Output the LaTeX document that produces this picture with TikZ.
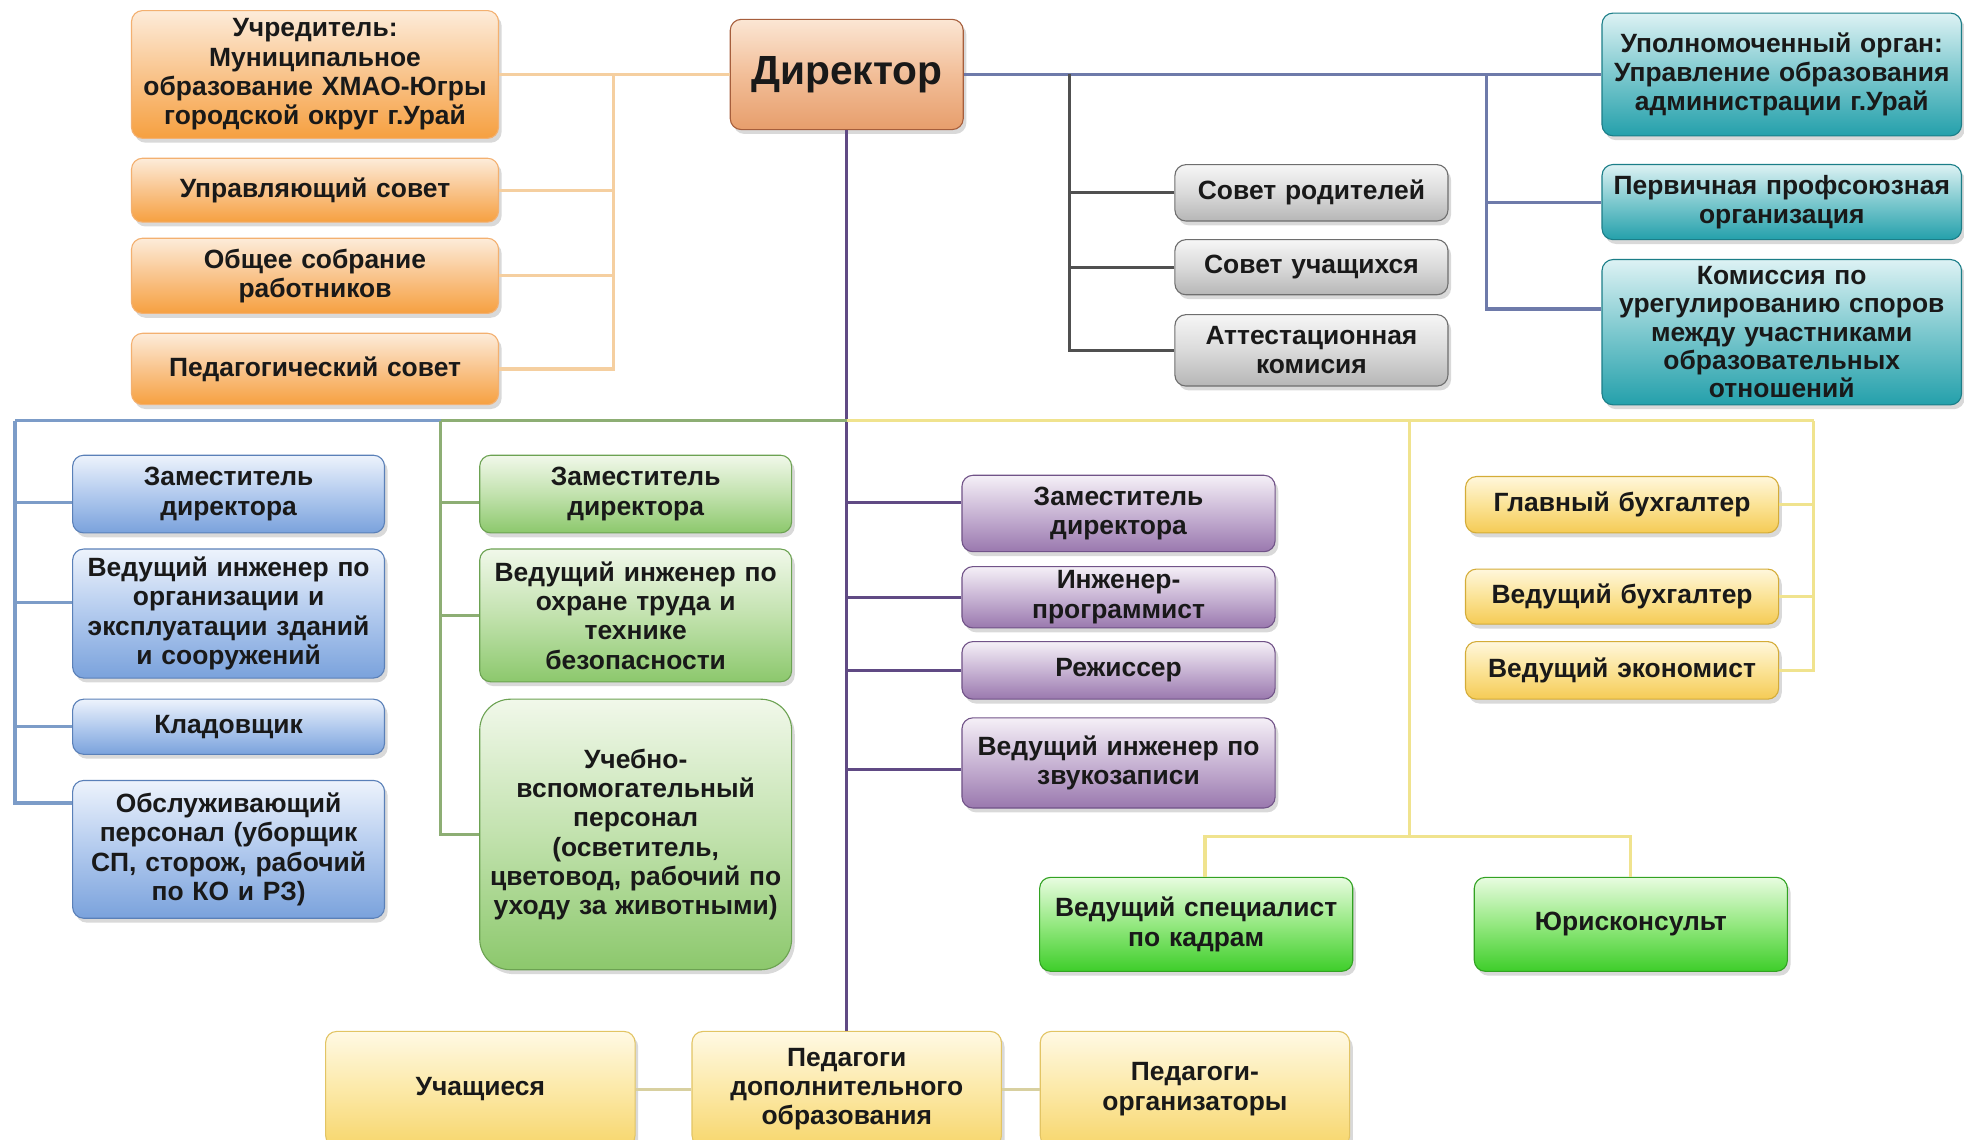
\documentclass[tikz,border=0pt]{standalone}
\usepackage{fontspec}
\setmainfont{Liberation Sans}
\usepackage{tikz}
\usetikzlibrary{positioning,shapes,shadows}

\definecolor{orgtop}{HTML}{FDECDA}
\definecolor{orgmid}{HTML}{F9C48C}
\definecolor{orgbot}{HTML}{F6A040}
\definecolor{orgdraw}{HTML}{F3B070}
\definecolor{dirtop}{HTML}{FBE6D4}
\definecolor{dirmid}{HTML}{F2BE98}
\definecolor{dirbot}{HTML}{E79E6C}
\definecolor{dirdraw}{HTML}{A65E3C}
\definecolor{grytop}{HTML}{F6F6F6}
\definecolor{grymid}{HTML}{DADADA}
\definecolor{grybot}{HTML}{B6B6B6}
\definecolor{grydraw}{HTML}{6E6E6E}
\definecolor{teltop}{HTML}{DDF2F4}
\definecolor{telmid}{HTML}{7CC8CE}
\definecolor{telbot}{HTML}{24A0AB}
\definecolor{teldraw}{HTML}{1B7E88}
\definecolor{blutop}{HTML}{EDF3FC}
\definecolor{blumid}{HTML}{B2CAEE}
\definecolor{blubot}{HTML}{7AA2DC}
\definecolor{bludraw}{HTML}{5A80B8}
\definecolor{grntop}{HTML}{F1F8EA}
\definecolor{grnmid}{HTML}{C2E2AE}
\definecolor{grnbot}{HTML}{8CC86C}
\definecolor{grndraw}{HTML}{6CA252}
\definecolor{viotop}{HTML}{F5F0F7}
\definecolor{viomid}{HTML}{C8B4D4}
\definecolor{viobot}{HTML}{9A78AE}
\definecolor{viodraw}{HTML}{715388}
\definecolor{goltop}{HTML}{FFF7DC}
\definecolor{golmid}{HTML}{FBE396}
\definecolor{golbot}{HTML}{F5CB55}
\definecolor{goldraw}{HTML}{D4AC38}
\definecolor{limtop}{HTML}{E8FCE0}
\definecolor{limmid}{HTML}{94E880}
\definecolor{limbot}{HTML}{3ECE2A}
\definecolor{limdraw}{HTML}{32A222}
\definecolor{sndtop}{HTML}{FFF9E4}
\definecolor{sndmid}{HTML}{FCE9A8}
\definecolor{sndbot}{HTML}{F7D66C}
\definecolor{snddraw}{HTML}{E2C464}

\tikzstyle{unit}=[rectangle, rounded corners=5pt, line width=0.5pt,
        drop shadow={shadow xshift=0.05cm, shadow yshift=-0.07cm, opacity=0.3},
        align=center, anchor=north, text=black!90, inner xsep=0.08cm, inner ysep=0.05cm,
        font=\bfseries\fontsize{12}{13.3}\selectfont]
\tikzstyle{orangebox}=[unit, draw=orgdraw, top color=orgtop, bottom color=orgbot, middle color=orgmid, text width=5.7cm]
\tikzstyle{headbox}=[unit, draw=dirdraw, top color=dirtop, bottom color=dirbot, middle color=dirmid, text width=3.56cm,
        font=\bfseries\fontsize{18.5}{20}\selectfont]
\tikzstyle{greybox}=[unit, draw=grydraw, top color=grytop, bottom color=grybot, middle color=grymid, text width=4.2cm]
\tikzstyle{tealbox}=[unit, draw=teldraw, top color=teltop, bottom color=telbot, middle color=telmid, text width=5.58cm]
\tikzstyle{bluebox}=[unit, draw=bludraw, top color=blutop, bottom color=blubot, middle color=blumid, text width=4.82cm]
\tikzstyle{greenbox}=[unit, draw=grndraw, top color=grntop, bottom color=grnbot, middle color=grnmid, text width=4.82cm]
\tikzstyle{violetbox}=[unit, draw=viodraw, top color=viotop, bottom color=viobot, middle color=viomid, text width=4.84cm]
\tikzstyle{goldbox}=[unit, draw=goldraw, top color=goltop, bottom color=golbot, middle color=golmid, text width=4.84cm]
\tikzstyle{limebox}=[unit, draw=limdraw, top color=limtop, bottom color=limbot, middle color=limmid, text width=4.84cm]
\tikzstyle{sandbox}=[unit, draw=snddraw, top color=sndtop, bottom color=sndbot, middle color=sndmid, text width=4.78cm]

\tikzstyle{orangeline}=[draw={rgb,255:red,245;green,207;blue,160}, line width=1.4pt]
\tikzstyle{slateline}=[draw={rgb,255:red,110;green,122;blue,170}, line width=1.4pt]
\tikzstyle{greyline}=[draw={rgb,255:red,80;green,80;blue,80}, line width=1.4pt]
\tikzstyle{violetline}=[draw={rgb,255:red,96;green,74;blue,132}, line width=1.4pt]
\tikzstyle{blueline}=[draw={rgb,255:red,124;green,156;blue,200}, line width=1.4pt]
\tikzstyle{greenline}=[draw={rgb,255:red,141;green,174;blue,116}, line width=1.4pt]
\tikzstyle{goldline}=[draw={rgb,255:red,240;green,227;blue,142}, line width=1.4pt]
\tikzstyle{sandline}=[draw={rgb,255:red,216;green,208;blue,160}, line width=1.4pt]

\begin{document}
\begin{tikzpicture}[node distance=0.28cm]

	\useasboundingbox (0,0) rectangle (31.36,-18.2);
	\clip (0,0) rectangle (31.36,-18.2);

	\node (Founder) [orangebox, minimum height=2.04cm] at (5.03,-0.16)
        {Учредитель:\\Муниципальное\\образование ХМАО-Югры\\городской округ г.Урай};
	\node (Board) [orangebox, minimum height=1.02cm, below=0.3cm of Founder] {Управляющий совет};
	\node (Assembly) [orangebox, minimum height=1.2cm, below=0.24cm of Board] {Общее собрание\\работников};
	\node (Council) [orangebox, minimum height=1.14cm, below=0.3cm of Assembly] {Педагогический совет};

	\node (Director) [headbox, minimum height=1.76cm] at (13.52,-0.3) {Директор};

	\node (Parents) [greybox, minimum height=0.9cm] at (20.94,-2.62) {Совет родителей};
	\node (Pupilsboard) [greybox, minimum height=0.88cm, below=of Parents] {Совет учащихся};
	\node (Attest) [greybox, minimum height=1.14cm, below=0.3cm of Pupilsboard] {Аттестационная\\комисия};

	\node (Authority) [tealbox, minimum height=1.96cm] at (28.45,-0.2)
        {Уполномоченный орган:\\Управление образования\\администрации г.Урай};
	\node (Union) [tealbox, minimum height=1.2cm, below=0.44cm of Authority] {Первичная профсоюзная\\организация};
	\node (Disputes) [tealbox, minimum height=2.32cm, inner ysep=0pt, below=0.3cm of Union,
        font=\bfseries\fontsize{12}{12.8}\selectfont]
        {Комиссия по\\урегулированию споров\\между участниками\\образовательных\\отношений};

	\node (DeputyA) [bluebox, minimum height=1.24cm] at (3.65,-7.26) {Заместитель\\директора};
	\node (EngBuild) [bluebox, minimum height=2.06cm, below=0.24cm of DeputyA]
        {Ведущий инженер по\\организации и\\эксплуатации зданий\\и сооружений};
	\node (Store) [bluebox, minimum height=0.88cm, below=0.32cm of EngBuild] {Кладовщик};
	\node (Service) [bluebox, minimum height=2.2cm, below=0.4cm of Store]
        {Обслуживающий\\персонал (уборщик\\СП, сторож, рабочий\\по КО и РЗ)};

	\node (DeputyB) [greenbox, minimum height=1.24cm] at (10.15,-7.26) {Заместитель\\директора};
	\node (EngSafety) [greenbox, minimum height=2.12cm, below=0.24cm of DeputyB]
        {Ведущий инженер по\\охране труда и\\технике\\безопасности};
	\node (Support) [greenbox, rounded corners=14pt, minimum height=4.32cm, below=0.26cm of EngSafety]
        {Учебно-\\вспомогательный\\персонал\\(осветитель,\\цветовод, рабочий по\\уходу за животными)};

	\node (DeputyC) [violetbox, minimum height=1.22cm] at (17.86,-7.58) {Заместитель\\директора};
	\node (Programmer) [violetbox, minimum height=0.98cm, below=0.22cm of DeputyC] {Инженер-\\программист};
	\node (Stage) [violetbox, minimum height=0.92cm, below=0.2cm of Programmer] {Режиссер};
	\node (Sound) [violetbox, minimum height=1.44cm, below=0.28cm of Stage] {Ведущий инженер по\\звукозаписи};

	\node (ChiefAcc) [goldbox, minimum height=0.9cm] at (25.9,-7.6) {Главный бухгалтер};
	\node (LeadAcc) [goldbox, minimum height=0.88cm, below=0.56cm of ChiefAcc] {Ведущий бухгалтер};
	\node (Economist) [goldbox, minimum height=0.92cm, below=0.26cm of LeadAcc] {Ведущий экономист};

	\node (Staff) [limebox, minimum height=1.5cm] at (19.1,-14.0) {Ведущий специалист\\по кадрам};
	\node (Lawyer) [limebox, minimum height=1.5cm] at (26.04,-14.0) {Юрисконсульт};

	\node (Pupils) [sandbox, minimum height=1.84cm] at (7.67,-16.46) {Учащиеся};
	\node (Teachers) [sandbox, minimum height=1.84cm] at (13.52,-16.46) {Педагоги\\дополнительного\\образования};
	\node (Organizers) [sandbox, minimum height=1.84cm] at (19.08,-16.46) {Педагоги-\\организаторы};

	\coordinate (orangebus) at (9.8,-1.18);
	\coordinate (greybus) at (17.08,-1.18);
	\coordinate (tealbus) at (23.74,-1.18);
	\coordinate (hub) at (13.52,-6.72);
	\coordinate (bluecorner) at (0.24,-6.72);
	\coordinate (greencorner) at (7.04,-6.72);
	\coordinate (goldcorner) at (28.96,-6.72);
	\coordinate (goldfork) at (22.5,-6.72);
	\coordinate (goldsplit) at (22.5,-13.36);

\draw[orangeline] (Founder.east) -- (Director.west);
\draw[orangeline] (Board.east) -| (orangebus);
\draw[orangeline] (Assembly.east) -| (orangebus);
\draw[orangeline] (Council.east) -| (orangebus);

\draw[slateline] (Director.east) -- (Authority.west);
\draw[greyline] (Parents.west) -| (greybus);
\draw[greyline] (Pupilsboard.west) -| (greybus);
\draw[greyline] (Attest.west) -| (greybus);
\draw[slateline] (Union.west) -| (tealbus);
\draw[slateline] ([yshift=0.37cm]Disputes.west) -| (tealbus);

\draw[violetline] (Director.south) -- (Teachers.north);
\draw[violetline] ([yshift=0.17cm]DeputyC.west) -| (hub);
\draw[violetline] (Programmer.west) -| (hub);
\draw[violetline] (Stage.west) -| (hub);
\draw[violetline] ([yshift=-0.1cm]Sound.west) -| (hub);

\draw[blueline] (greencorner) -- (bluecorner);
\draw[blueline] ([yshift=-0.14cm]DeputyA.west) -| (bluecorner);
\draw[blueline] ([yshift=0.17cm]EngBuild.west) -| (bluecorner);
\draw[blueline] (Store.west) -| (bluecorner);
\draw[blueline] ([yshift=0.74cm]Service.west) -| (bluecorner);

\draw[greenline] (hub) -- (greencorner);
\draw[greenline] ([yshift=-0.14cm]DeputyB.west) -| (greencorner);
\draw[greenline] (EngSafety.west) -| (greencorner);
\draw[greenline] (Support.west) -| (greencorner);

\draw[goldline] (hub) -- (goldcorner);
\draw[goldline] (ChiefAcc.east) -| (goldcorner);
\draw[goldline] (LeadAcc.east) -| (goldcorner);
\draw[goldline] (Economist.east) -| (goldcorner);
\draw[goldline] (goldfork) -- (goldsplit);
\draw[goldline] (goldsplit) -| ([xshift=0.14cm]Staff.north);
\draw[goldline] (goldsplit) -| (Lawyer.north);

\draw[sandline] (Pupils.east) -- (Teachers.west);
\draw[sandline] (Teachers.east) -- (Organizers.west);

\end{tikzpicture}
\end{document}
